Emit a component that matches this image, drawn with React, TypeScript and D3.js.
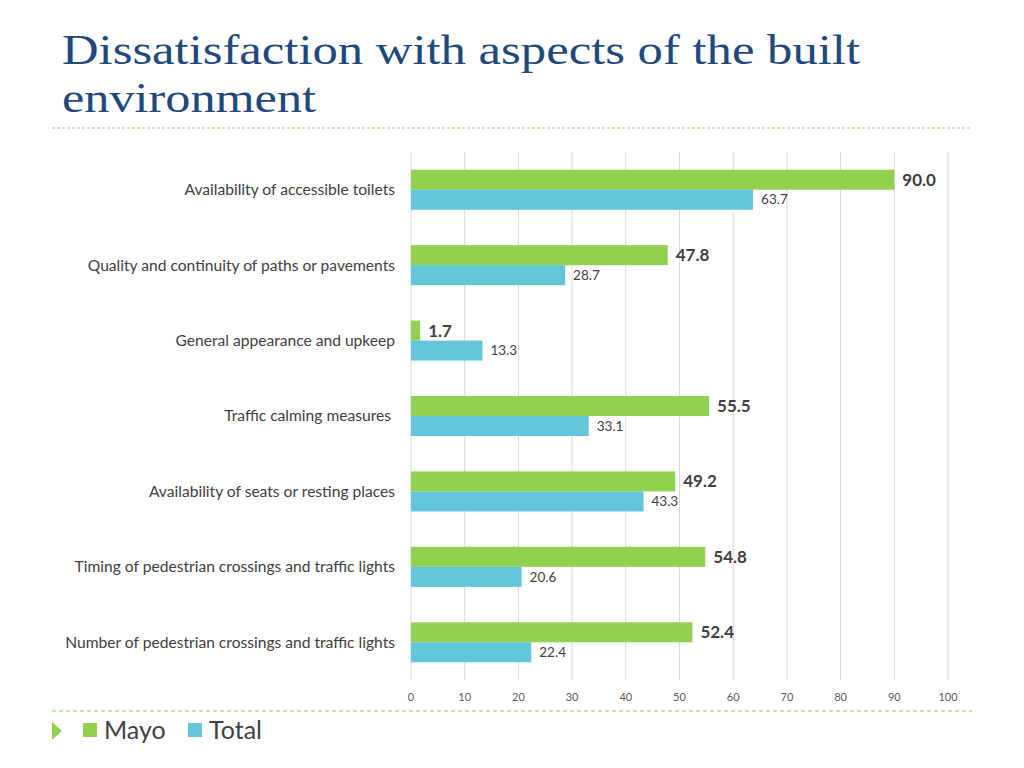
import React from "react";
import * as d3 from "d3";

const categories = [
  "Availability of accessible toilets",
  "Quality and continuity of paths or pavements",
  "General appearance and upkeep",
  "Traffic calming measures ",
  "Availability of seats or resting places",
  "Timing of pedestrian crossings and traffic lights",
  "Number of pedestrian crossings and traffic lights",
];
const mayo = [90.0, 47.8, 1.7, 55.5, 49.2, 54.8, 52.4];
const total = [63.7, 28.7, 13.3, 33.1, 43.3, 20.6, 22.4];
const ticks = [0, 10, 20, 30, 40, 50, 60, 70, 80, 90, 100];
const seriesNames = ["Mayo", "Total"];

const GREEN = "#92D050";
const CYAN = "#62C5DA";
const FONT = "Lato, 'Open Sans', sans-serif";

export default function App() {
  const x = d3.scaleLinear().domain([0, 100]).range([411, 948]);
  const y = d3.scaleBand<string>().domain(categories).range([152, 680]);
  const barH = 20;

  return (
    <svg width={1024} height={768} style={{ position: "absolute", left: 0, top: 0 }}>
      <rect width={1024} height={768} fill="#fff" />
      <text x={62} y={64} fontFamily="'Liberation Serif', serif" fontSize={42} fill="#1F497D" textLength={798} lengthAdjust="spacingAndGlyphs">
        Dissatisfaction with aspects of the built
      </text>
      <text x={62} y={112} fontFamily="'Liberation Serif', serif" fontSize={42} fill="#1F497D" textLength={254} lengthAdjust="spacingAndGlyphs">
        environment
      </text>
      <line x1={52} x2={972} y1={128} y2={128} stroke="#CFDCA8" strokeWidth={1.5} strokeDasharray="3,2" />

      {ticks.map((t) => (
        <g key={t}>
          <line x1={x(t)} x2={x(t)} y1={152} y2={680} stroke="#D9D9D9" strokeWidth={1} />
          <text x={x(t)} y={701} textAnchor="middle" fontFamily={FONT} fontSize={11} fill="#595959">
            {t}
          </text>
        </g>
      ))}

      {categories.map((c, i) => {
        const cy = (y(c) as number) + y.bandwidth() / 2;
        return (
          <g key={c}>
            <text x={395} y={cy} dy="0.35em" textAnchor="end" fontFamily={FONT} fontSize={15.6} fill="#404040" style={{ whiteSpace: "pre" }}>
              {c}
            </text>
            <rect x={x(0)} y={cy - barH} width={x(mayo[i]) - x(0)} height={barH} fill={GREEN} />
            <rect x={x(0)} y={cy} width={x(total[i]) - x(0)} height={barH} fill={CYAN} />
            <text x={x(mayo[i]) + 8} y={cy - barH / 2} dy="0.35em" fontFamily={FONT} fontSize={17} fontWeight="bold" fill="#404040">
              {mayo[i].toFixed(1)}
            </text>
            <text x={x(total[i]) + 8} y={cy + barH / 2} dy="0.35em" fontFamily={FONT} fontSize={13.5} fill="#404040">
              {total[i].toFixed(1)}
            </text>
          </g>
        );
      })}

      <line x1={52} x2={972} y1={711} y2={711} stroke="#92D050" strokeWidth={1.2} strokeDasharray="4,3" />
      <path d="M52,722 L62,731 L52,740 Z" fill={GREEN} />
      <rect x={83} y={723} width={14} height={14} fill={GREEN} />
      <text x={104} y={739} fontFamily={FONT} fontSize={25} fill="#404040">{seriesNames[0]}</text>
      <rect x={188} y={723} width={14} height={14} fill={CYAN} />
      <text x={209} y={739} fontFamily={FONT} fontSize={25} fill="#404040">{seriesNames[1]}</text>
    </svg>
  );
}
